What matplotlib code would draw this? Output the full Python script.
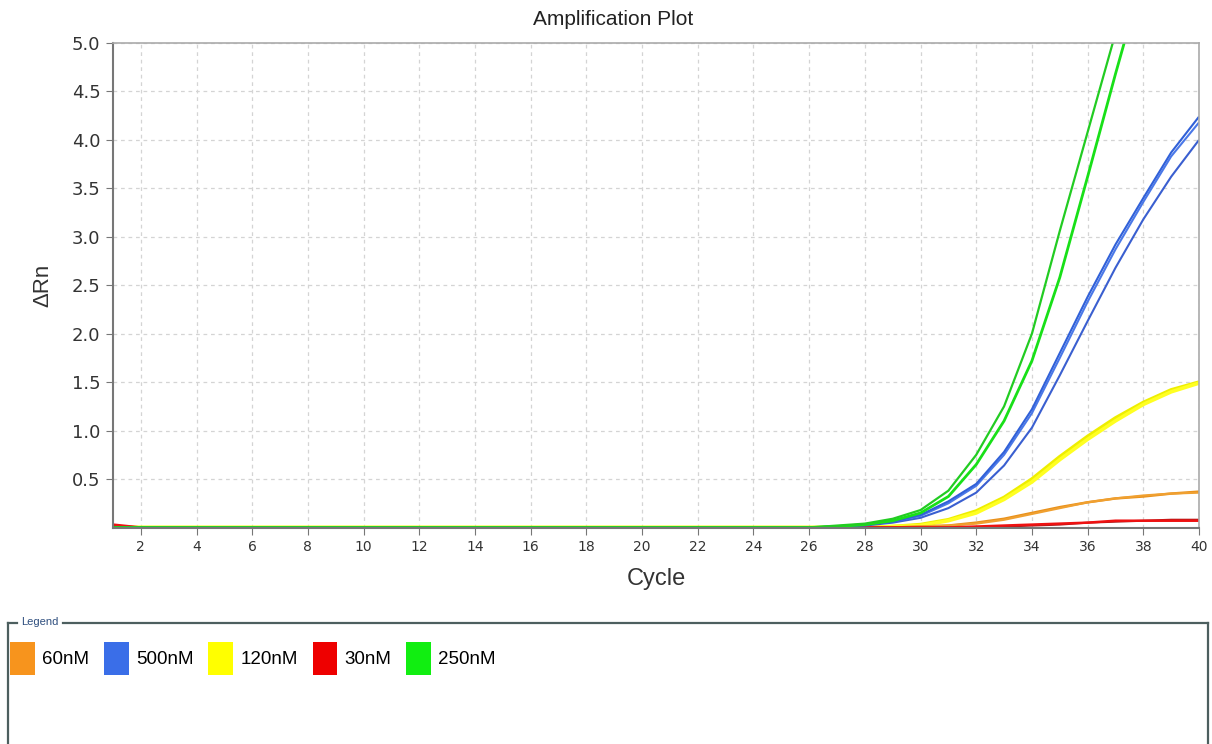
import matplotlib
matplotlib.use("Agg")
import matplotlib.pyplot as plt
from matplotlib.patches import Patch
from matplotlib.lines import Line2D

cycles = list(range(1, 41))

# 250nM (green, two replicates)
green_a = [0.0, 0.0, 0.0, 0.0, 0.0, 0.0, 0.0, 0.0, 0.0, 0.0,
           0.0, 0.0, 0.0, 0.0, 0.0, 0.0, 0.0, 0.0, 0.0, 0.0,
           0.0, 0.0, 0.0, 0.0, 0.0, 0.0, 0.02, 0.04, 0.09, 0.18,
           0.38, 0.75, 1.25, 2.0, 3.06, 4.08, 5.1, 6.0, 6.7, 7.2]
green_b = [0.0, 0.0, 0.0, 0.0, 0.0, 0.0, 0.0, 0.0, 0.0, 0.0,
           0.0, 0.0, 0.0, 0.0, 0.0, 0.0, 0.0, 0.0, 0.0, 0.0,
           0.0, 0.0, 0.0, 0.0, 0.0, 0.0, 0.01, 0.03, 0.07, 0.15,
           0.32, 0.65, 1.10, 1.72, 2.58, 3.62, 4.68, 5.7, 6.5, 7.0]
# 500nM (blue, three replicates)
blue_a = [0.0, 0.0, 0.0, 0.0, 0.0, 0.0, 0.0, 0.0, 0.0, 0.0,
          0.0, 0.0, 0.0, 0.0, 0.0, 0.0, 0.0, 0.0, 0.0, 0.0,
          0.0, 0.0, 0.0, 0.0, 0.0, 0.0, 0.01, 0.03, 0.06, 0.13,
          0.27, 0.45, 0.78, 1.22, 1.80, 2.38, 2.92, 3.40, 3.87, 4.24]
blue_b = [0.0, 0.0, 0.0, 0.0, 0.0, 0.0, 0.0, 0.0, 0.0, 0.0,
          0.0, 0.0, 0.0, 0.0, 0.0, 0.0, 0.0, 0.0, 0.0, 0.0,
          0.0, 0.0, 0.0, 0.0, 0.0, 0.0, 0.01, 0.03, 0.06, 0.12,
          0.25, 0.43, 0.75, 1.18, 1.75, 2.33, 2.87, 3.36, 3.83, 4.18]
blue_c = [0.0, 0.0, 0.0, 0.0, 0.0, 0.0, 0.0, 0.0, 0.0, 0.0,
          0.0, 0.0, 0.0, 0.0, 0.0, 0.0, 0.0, 0.0, 0.0, 0.0,
          0.0, 0.0, 0.0, 0.0, 0.0, 0.0, 0.01, 0.02, 0.05, 0.10,
          0.20, 0.36, 0.64, 1.03, 1.57, 2.13, 2.68, 3.18, 3.62, 4.00]
# 120nM (yellow)
yellow_a = [0.0, 0.0, 0.0, 0.0, 0.0, 0.0, 0.0, 0.0, 0.0, 0.0,
            0.0, 0.0, 0.0, 0.0, 0.0, 0.0, 0.0, 0.0, 0.0, 0.0,
            0.0, 0.0, 0.0, 0.0, 0.0, 0.0, 0.0, 0.0, 0.01, 0.03,
            0.08, 0.17, 0.31, 0.50, 0.73, 0.94, 1.13, 1.29, 1.42, 1.50]
yellow_b = [0.0, 0.0, 0.0, 0.0, 0.0, 0.0, 0.0, 0.0, 0.0, 0.0,
            0.0, 0.0, 0.0, 0.0, 0.0, 0.0, 0.0, 0.0, 0.0, 0.0,
            0.0, 0.0, 0.0, 0.0, 0.0, 0.0, 0.0, 0.0, 0.01, 0.02,
            0.07, 0.15, 0.29, 0.47, 0.70, 0.91, 1.10, 1.27, 1.40, 1.49]
# 60nM (orange)
orange_a = [0.0, 0.0, 0.0, 0.0, 0.0, 0.0, 0.0, 0.0, 0.0, 0.0,
            0.0, 0.0, 0.0, 0.0, 0.0, 0.0, 0.0, 0.0, 0.0, 0.0,
            0.0, 0.0, 0.0, 0.0, 0.0, 0.0, 0.0, 0.0, 0.0, 0.01,
            0.02, 0.05, 0.09, 0.15, 0.21, 0.26, 0.30, 0.32, 0.35, 0.37]
orange_b = [0.0, 0.0, 0.0, 0.0, 0.0, 0.0, 0.0, 0.0, 0.0, 0.0,
            0.0, 0.0, 0.0, 0.0, 0.0, 0.0, 0.0, 0.0, 0.0, 0.0,
            0.0, 0.0, 0.0, 0.0, 0.0, 0.0, 0.0, 0.0, 0.0, 0.01,
            0.02, 0.04, 0.08, 0.14, 0.20, 0.26, 0.30, 0.33, 0.35, 0.36]
# 30nM (red)
red_a = [0.03, 0.0, 0.0, 0.0, 0.0, 0.0, 0.0, 0.0, 0.0, 0.0,
         0.0, 0.0, 0.0, 0.0, 0.0, 0.0, 0.0, 0.0, 0.0, 0.0,
         0.0, 0.0, 0.0, 0.0, 0.0, 0.0, 0.0, 0.0, 0.0, 0.0,
         0.0, 0.01, 0.02, 0.03, 0.04, 0.05, 0.07, 0.07, 0.07, 0.07]
red_b = [0.02, 0.0, 0.0, 0.0, 0.0, 0.0, 0.0, 0.0, 0.0, 0.0,
         0.0, 0.0, 0.0, 0.0, 0.0, 0.0, 0.0, 0.0, 0.0, 0.0,
         0.0, 0.0, 0.0, 0.0, 0.0, 0.0, 0.0, 0.0, 0.0, 0.0,
         0.0, 0.0, 0.01, 0.02, 0.03, 0.05, 0.06, 0.07, 0.08, 0.08]

legend_labels = ["60nM", "500nM", "120nM", "30nM", "250nM"]
legend_colors = ["#f7941d", "#3a6ee8", "#ffff00", "#ee0000", "#11ee11"]

x_ticks = list(range(2, 41, 2))
y_ticks = [0.5, 1.0, 1.5, 2.0, 2.5, 3.0, 3.5, 4.0, 4.5, 5.0]

W, H = 1212, 744
fig = plt.figure(figsize=(W / 100, H / 100), dpi=100)
fig.patch.set_facecolor("white")
ax = fig.add_axes([113 / W, 1 - 527.5 / H, (1199 - 113) / W, (527.5 - 43) / H])

series = [
    (yellow_a, "#eeee00", 2.6),
    (yellow_b, "#ffff22", 2.6),
    (orange_a, "#e8901a", 1.8),
    (orange_b, "#f0a030", 1.6),
    (red_b, "#aa1a1a", 1.5),
    (red_a, "#ee1111", 1.8),
    (blue_c, "#3a5fd0", 1.5),
    (blue_b, "#4a78e8", 1.5),
    (blue_a, "#3060d8", 1.5),
    (green_b, "#18e018", 2.0),
    (green_a, "#22cc22", 1.6),
]
for vals, col, lw in series:
    ax.plot(cycles, vals, color=col, lw=lw, solid_capstyle="butt")

ax.set_xlim(1, 40)
ax.set_ylim(0, 5)
ax.set_xticks(x_ticks)
ax.set_yticks(y_ticks)
ax.set_yticklabels([f"{v:.1f}" for v in y_ticks])
ax.grid(True, color="#d4d4d4", linestyle=(0, (3, 3)), lw=0.9)
ax.set_axisbelow(True)

for s in ["left", "bottom"]:
    ax.spines[s].set_color("#777777")
    ax.spines[s].set_linewidth(1.5)
for s in ["top", "right"]:
    ax.spines[s].set_color("#aaaaaa")
    ax.spines[s].set_linewidth(1.2)

ax.tick_params(axis="y", direction="out", length=5, color="#777777",
               labelsize=13, labelcolor="#333333", pad=4)
ax.tick_params(axis="x", direction="out", length=5, color="#777777",
               labelsize=10, labelcolor="#333333", pad=4)
for lab in ax.get_yticklabels() + ax.get_xticklabels():
    lab.set_family("DejaVu Sans")

W_, H_ = W, H
def fx(px):
    return px / W_
def fy(py):
    return 1 - py / H_

fig.text(fx(613), fy(25), "Amplification Plot", fontsize=15,
         family="Liberation Sans", color="#222222", ha="center", va="baseline")
ax.set_xlabel("Cycle", fontsize=17, family="Liberation Sans", color="#333333",
              labelpad=10)
ax.set_ylabel("ΔRn", fontsize=16, family="Liberation Sans", color="#333333",
              labelpad=13)

# Legend panel
edge = "#4d5f5f"
fig.add_artist(Line2D([fx(8), fx(17)], [fy(623), fy(623)], color=edge, lw=1.6))
fig.add_artist(Line2D([fx(63), fx(1208)], [fy(623), fy(623)], color=edge, lw=1.6))
fig.add_artist(Line2D([fx(8), fx(8)], [fy(623), fy(750)], color=edge, lw=1.6))
fig.add_artist(Line2D([fx(1208), fx(1208)], [fy(623), fy(750)], color=edge, lw=1.6))
fig.text(fx(21), fy(622), "Legend", fontsize=8, family="Liberation Sans",
         color="#2f4f7f", va="center", ha="left")

handles = [Patch(facecolor=c, edgecolor="none") for c in legend_colors]
fig.legend(handles, legend_labels, loc="upper left",
           bbox_to_anchor=(fx(10), fy(642)), ncol=5, frameon=False,
           prop={"family": "Liberation Sans", "size": 13.5},
           handlelength=1.33, handleheight=2.33, handletextpad=0.37,
           columnspacing=0.8, borderpad=0, borderaxespad=0)

fig.savefig("out.png", dpi=100, facecolor="white")
